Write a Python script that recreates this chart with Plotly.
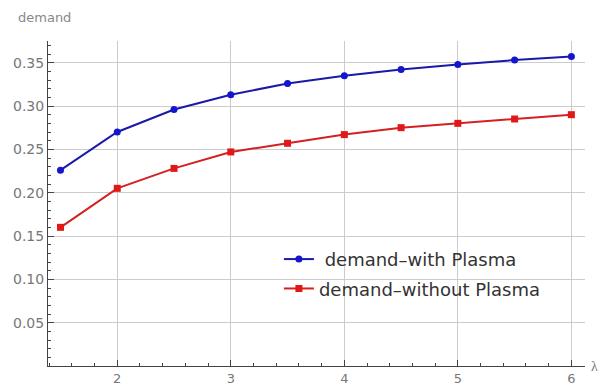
import plotly.graph_objects as go

lam = [1.5, 2, 2.5, 3, 3.5, 4, 4.5, 5, 5.5, 6]
with_plasma = [0.226, 0.270, 0.296, 0.313, 0.326, 0.335, 0.342, 0.348, 0.353, 0.357]
without_plasma = [0.160, 0.205, 0.228, 0.247, 0.257, 0.267, 0.275, 0.280, 0.285, 0.290]
x_ticks = [2, 3, 4, 5, 6]
y_ticks = [0.05, 0.10, 0.15, 0.20, 0.25, 0.30, 0.35]

fig = go.Figure()
fig.add_trace(go.Scatter(x=lam, y=with_plasma, mode="lines+markers",
                         name=" demand\u2013with Plasma", legendgroup="a",
                         line=dict(color="#1a1aa8", width=2),
                         marker=dict(symbol="circle", size=7, color="#1515d0")))
fig.add_trace(go.Scatter(x=lam, y=without_plasma, mode="lines+markers",
                         name="demand\u2013without Plasma", legendgroup="b",
                         line=dict(color="#d42020", width=2),
                         marker=dict(symbol="square", size=7, color="#e01818")))

axis_common = dict(showline=True, linecolor="#444", linewidth=1,
                   showgrid=True, gridcolor="#cccccc", gridwidth=1,
                   ticks="inside", tickcolor="#444", ticklen=6,
                   zeroline=False, automargin=False)

fig.update_layout(
    width=601, height=389,
    margin=dict(l=48, r=16, t=41, b=23),
    paper_bgcolor="white", plot_bgcolor="white",
    font=dict(family="DejaVu Sans", color="#333"),
    xaxis=dict(range=[1.39, 6.12], tickvals=x_ticks, ticktext=[str(v) for v in x_ticks],
               tickfont=dict(family="DejaVu Sans", size=13, color="#777"),
               minor=dict(dtick=0.2, tick0=0, ticks="inside", ticklen=3, tickcolor="#444", showgrid=False),
               **axis_common),
    yaxis=dict(range=[0, 0.375], tickvals=y_ticks, ticktext=[f"{v:.2f}" for v in y_ticks],
               tickfont=dict(family="DejaVu Sans", size=14, color="#777"),
               minor=dict(dtick=0.01, tick0=0, ticks="inside", ticklen=3, tickcolor="#444", showgrid=False),
               **axis_common),
    legend=dict(x=0.43, y=0.385, xanchor="left", yanchor="top",
                bgcolor="rgba(255,255,255,0)",
                font=dict(family="DejaVu Sans", size=18, color="#333"),
                tracegroupgap=3),
    showlegend=True,
)
fig.add_annotation(text="demand", xref="paper", yref="paper", x=-0.06, y=1.0,
                   yshift=14, xanchor="left", yanchor="bottom", showarrow=False,
                   font=dict(family="DejaVu Sans", size=13, color="#888"))
fig.add_annotation(text="\u03bb", xref="paper", yref="paper", x=1.0, y=0,
                   xshift=4, xanchor="left", yanchor="middle", showarrow=False,
                   font=dict(family="Liberation Serif", size=14, color="#777"))

fig.write_html("out.html")
